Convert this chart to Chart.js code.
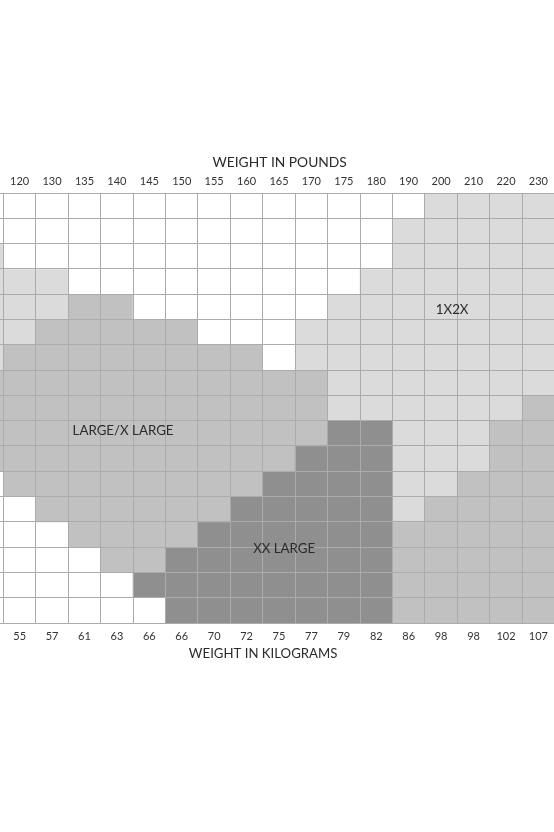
<!DOCTYPE html>
<html lang="en">
<head>
<meta charset="UTF-8">
<title>Size Chart</title>
<script src="https://cdn.jsdelivr.net/npm/chart.js"></script>
<style>
    html, body { margin: 0; padding: 0; background: #fff; overflow: hidden; }
    /* the grid runs past both edges of the picture, so the canvas is a bit wider */
    .chart-wrap { position: absolute; left: -29px; top: 0; width: 616px; height: 832px; }
</style>
</head>
<body>
<div class="chart-wrap"><canvas id="sizeChart"></canvas></div>
<script>
// Weight in pounds (top axis)
const poundLabels = ['120', '130', '135', '140', '145', '150', '155', '160', '165', '170', '175', '180', '190', '200', '210', '220', '230'];
// Weight in kilograms (bottom axis)
const kgLabels = ['55', '57', '61', '63', '66', '66', '70', '72', '75', '77', '79', '82', '86', '98', '98', '102', '107'];

// One string per row, top to bottom, one letter per column.
// First and last letters are the cut-off columns at the picture edges.
// W = no size, P = 1X2X, L = LARGE/X LARGE, X = XX LARGE
const sizeRows = [
    'WWWWWWWWWWWWWWPPPPP',
    'WWWWWWWWWWWWWPPPPPP',
    'PWWWWWWWWWWWWPPPPPP',
    'PPPWWWWWWWWWPPPPPPP',
    'PPPLLWWWWWWPPPPPPPP',
    'PPLLLLLWWWPPPPPPPPP',
    'PLLLLLLLLWPPPPPPPPP',
    'LLLLLLLLLLLPPPPPPPP',
    'LLLLLLLLLLLPPPPPPLL',
    'LLLLLLLLLLLXXPPPLLL',
    'LLLLLLLLLLXXXPPPLLL',
    'WLLLLLLLLXXXXPPLLLL',
    'WWLLLLLLXXXXXPLLLLL',
    'WWWLLLLXXXXXXLLLLLL',
    'WWWWLLXXXXXXXLLLLLL',
    'WWWWWXXXXXXXXLLLLLL',
    'WWWWWWXXXXXXXLLLLLL'
];

const sizeColors = { W: '#ffffff', P: '#dbdbdb', L: '#c1c1c1', X: '#8f8f8f' };
const gridColor = '#ababab';
const textColor = '#2b2b2b';

// Text on the chart, placed in grid units (columns from the 120 column, rows from the top)
const notes = [
    { text: 'WEIGHT IN POUNDS', col: 8.52, row: -1.19, size: 13.8 },
    { text: 'WEIGHT IN KILOGRAMS', col: 8.01, row: 18.23, size: 13.2 },
    { text: '1X2X', col: 13.84, row: 4.63, size: 13.3 },
    { text: 'LARGE/X LARGE', col: 3.69, row: 9.41, size: 13.3 },
    { text: 'XX LARGE', col: 8.66, row: 14.08, size: 13.3 }
];

const xLabels = [''].concat(poundLabels, ['']);
const x2Labels = [''].concat(kgLabels, ['']);

const datasets = sizeRows.map((row, r) => ({
    label: 'row ' + (r + 1),
    data: row.split('').map(() => [r, r + 1]),
    backgroundColor: row.split('').map(c => sizeColors[c]),
    borderWidth: 0,
    barPercentage: 1,
    categoryPercentage: 1,
    grouped: false
}));

const notesPlugin = {
    id: 'notes',
    afterDraw(chart) {
        const ctx = chart.ctx;
        const xs = chart.scales.x;
        const ys = chart.scales.y;
        const colW = xs.getPixelForValue(2) - xs.getPixelForValue(1);
        const left = xs.getPixelForValue(1) - colW / 2;
        const rowH = ys.getPixelForValue(1) - ys.getPixelForValue(0);
        const top = ys.getPixelForValue(0);
        ctx.save();
        ctx.fillStyle = textColor;
        ctx.textAlign = 'center';
        ctx.textBaseline = 'middle';
        notes.forEach(n => {
            ctx.font = n.size + 'px Lato';
            ctx.fillText(n.text, left + n.col * colW, top + n.row * rowH);
        });
        ctx.restore();
    }
};

const tickFont = { family: 'Lato', size: 11 };

new Chart(document.getElementById('sizeChart'), {
    type: 'bar',
    data: { labels: xLabels, datasets: datasets },
    options: {
        responsive: true,
        maintainAspectRatio: false,
        animation: false,
        layout: { padding: 0 },
        plugins: {
            legend: { display: false },
            tooltip: { enabled: false }
        },
        scales: {
            x: {
                position: 'top',
                offset: true,
                grid: { offset: true, color: gridColor, drawTicks: false, z: 1 },
                border: { color: gridColor, z: 1 },
                ticks: { padding: 5, font: tickFont, color: '#333', maxRotation: 0, autoSkip: false },
                afterFit: s => { s.height = 193; }
            },
            x2: {
                type: 'category',
                position: 'bottom',
                labels: x2Labels,
                offset: true,
                grid: { display: false, drawTicks: false },
                border: { display: false },
                ticks: { padding: 7, font: tickFont, color: '#333', maxRotation: 0, autoSkip: false },
                afterFit: s => { s.height = 209; }
            },
            y: {
                type: 'linear',
                reverse: true,
                min: 0,
                max: 17,
                grid: { color: gridColor, drawTicks: false, z: 1 },
                border: { display: false },
                ticks: { display: false, stepSize: 1 },
                afterFit: s => { s.width = 0; }
            }
        }
    },
    plugins: [notesPlugin]
});
</script>
</body>
</html>
